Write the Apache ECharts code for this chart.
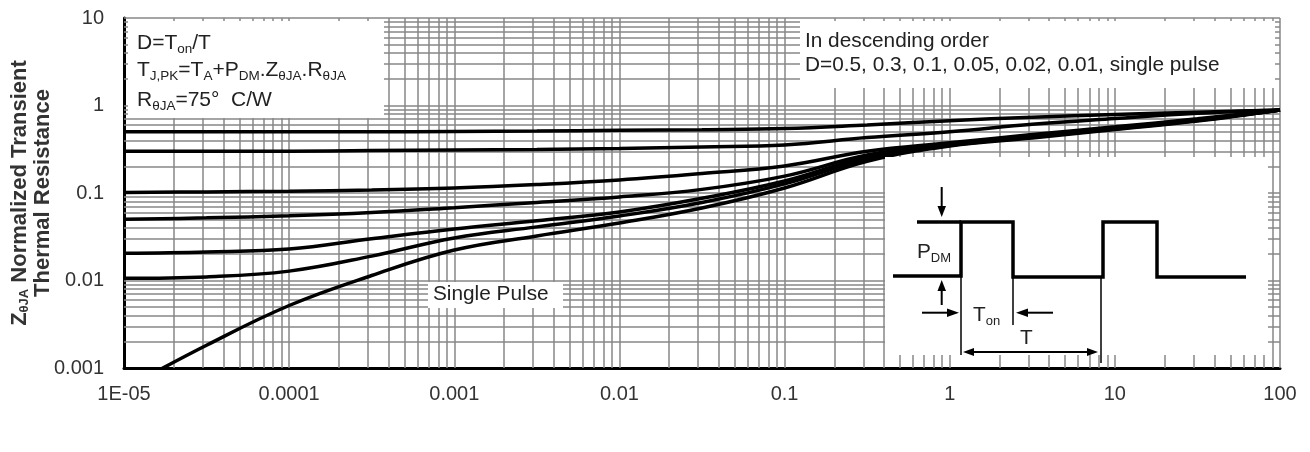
<!DOCTYPE html>
<html>
<head>
<meta charset="utf-8">
<script src="https://cdn.jsdelivr.net/npm/echarts@6/dist/echarts.min.js"></script>
<style>
html,body{margin:0;padding:0;background:#fff;}
#c{width:1310px;height:452px;}
</style>
</head>
<body>
<div id="c"></div>
<script>
// ---- data (half-decade sample points) ----
const times = [1e-5, 3.16e-5, 1e-4, 3.16e-4, 1e-3, 3.16e-3, 1e-2, 3.16e-2, 0.1, 0.316, 1, 3.16, 10, 31.6, 100];
const d50 = [0.50, 0.50, 0.50, 0.50, 0.505, 0.51, 0.52, 0.53, 0.545, 0.60, 0.67, 0.735, 0.79, 0.84, 0.89];
const d30 = [0.30, 0.30, 0.30, 0.305, 0.31, 0.315, 0.323, 0.336, 0.354, 0.43, 0.50, 0.61, 0.71, 0.815, 0.89];
const d10 = [0.101, 0.103, 0.105, 0.108, 0.114, 0.125, 0.141, 0.167, 0.204, 0.30, 0.375, 0.465, 0.57, 0.705, 0.89];
const d05 = [0.050, 0.052, 0.055, 0.060, 0.068, 0.078, 0.090, 0.110, 0.156, 0.272, 0.36, 0.45, 0.555, 0.69, 0.89];
const d02 = [0.0205, 0.0212, 0.0229, 0.0300, 0.0388, 0.0482, 0.0607, 0.087, 0.137, 0.257, 0.355, 0.44, 0.545, 0.68, 0.89];
const d01 = [0.0106, 0.011, 0.0128, 0.0190, 0.0306, 0.0410, 0.0546, 0.078, 0.127, 0.245, 0.35, 0.435, 0.54, 0.675, 0.89];
const single = [0.000575, 0.00182, 0.00518, 0.0114, 0.0223, 0.0323, 0.0454, 0.0674, 0.114, 0.23, 0.345, 0.425, 0.53, 0.665, 0.89];

const xTickLabels = {'-5':'1E-05','-4':'0.0001','-3':'0.001','-2':'0.01','-1':'0.1','0':'1','1':'10','2':'100'};
const yTickLabels = {'-3':'0.001','-2':'0.01','-1':'0.1','0':'1','1':'10'};

const FONT = "'Liberation Sans', Arial, sans-serif";

// gridlines (log decades with 2..9 minors)
const vLines = [];
for (let e = -5; e <= 1; e++) for (let k = 1; k <= 9; k++) { if (!(e === -5 && k === 1)) vLines.push({xAxis: k * Math.pow(10, e)}); }
vLines.push({xAxis: 100});
const hLines = [];
for (let e = -3; e <= 0; e++) for (let k = 1; k <= 9; k++) { if (!(e === -3 && k === 1)) hLines.push({yAxis: k * Math.pow(10, e)}); }
hLines.push({yAxis: 10});

function pairs(xs, ys) { return xs.map((x, i) => [x, ys[i]]); }
function curve(name, xs, ys) {
  return {
    name, type: 'line', data: pairs(xs, ys), showSymbol: false, smooth: 0.4, clip: true,
    lineStyle: {color: '#000', width: 3.5}, z: 5, silent: true, animation: false
  };
}

function txt(x, y, text, size, sub) {
  return {
    type: 'text', z: 110,
    style: {x, y, text, fill: '#222', fontSize: size, fontFamily: FONT, verticalAlign: 'middle', align: 'left',
      lineHeight: 26, rich: {s: {fontSize: sub || 13, fontFamily: FONT, fill: '#222', verticalAlign: 'bottom', lineHeight: 14}}}
  };
}
function line(points, w) {
  return {type: 'polyline', z: 105, shape: {points}, style: {stroke: '#000', lineWidth: w, fill: null}};
}
function tri(points) {
  return {type: 'polygon', z: 106, shape: {points}, style: {fill: '#000', stroke: null}};
}
function box(x, y, w, h) {
  return {type: 'rect', z: 100, shape: {x, y, width: w, height: h}, style: {fill: '#fff', stroke: null}};
}

const chart = echarts.init(document.getElementById('c'), null, {renderer: 'canvas'});
chart.setOption({
  animation: false,
  backgroundColor: '#fff',
  grid: {left: 124, right: 30, top: 18, bottom: 84, containLabel: false, outerBoundsMode: 'none'},
  xAxis: {
    type: 'log', logBase: 10, min: 1e-5, max: 100,
    axisLine: {show: true, onZero: false, lineStyle: {color: '#000', width: 3}},
    axisTick: {show: false}, splitLine: {show: false}, minorTick: {show: false},
    axisLabel: {fontSize: 20, fontFamily: FONT, color: '#333', margin: 16,
      formatter: v => xTickLabels[String(Math.round(Math.log10(v)))] || ''}
  },
  yAxis: {
    type: 'log', logBase: 10, min: 0.001, max: 10,
    axisLine: {show: true, onZero: false, lineStyle: {color: '#000', width: 3}},
    axisTick: {show: false}, splitLine: {show: false},
    axisLabel: {fontSize: 20, fontFamily: FONT, color: '#333', margin: 20,
      formatter: v => yTickLabels[String(Math.round(Math.log10(v)))] || ''},
    name: 'Z{s|θJA} Normalized Transient\nThermal Resistance',
    nameLocation: 'middle', nameGap: 70, nameRotate: 90, nameMoveOverlap: false,
    nameTextStyle: {fontSize: 22, fontWeight: 'bold', fontFamily: FONT, color: '#333', lineHeight: 23,
      rich: {s: {fontSize: 13, fontWeight: 'bold', fontFamily: FONT, color: '#333', verticalAlign: 'bottom', lineHeight: 14}}}
  },
  series: [
    {
      type: 'line', data: [], z: 1, silent: true,
      markLine: {
        silent: true, animation: false, precision: 10, symbol: ['none', 'none'], label: {show: false},
        emphasis: {disabled: true},
        lineStyle: {color: '#878787', width: 1.5, type: 'solid'},
        data: vLines.concat(hLines)
      }
    },
    curve('D=0.5', times, d50),
    curve('D=0.3', times, d30),
    curve('D=0.1', times, d10),
    curve('D=0.05', times, d05),
    curve('D=0.02', times, d02),
    curve('D=0.01', times, d01),
    curve('Single Pulse', times, single)
  ],
  graphic: {elements: [
    box(128, 21, 256, 97),
    box(800, 21, 475, 67),
    box(428, 282, 135, 26),
    box(885, 157, 383, 198),
    txt(137, 43, 'D=T{s|on}/T', 21, 13.5),
    txt(137, 70, 'T{s|J,PK}=T{s|A}+P{s|DM}.Z{s|θJA}.R{s|θJA}', 21, 13.5),
    txt(137, 100, 'R{s|θJA}=75°  C/W', 21, 13.5),
    txt(805, 41, 'In descending order', 20.8),
    txt(805, 65, 'D=0.5, 0.3, 0.1, 0.05, 0.02, 0.01, single pulse', 20.8),
    txt(433, 294, 'Single Pulse', 20.8),
    // pulse diagram
    line([[893,276],[961,276],[961,222],[1013,222],[1013,277],[1103,277],[1103,222],[1157,222],[1157,277],[1246,277]], 3.5),
    line([[917,222],[961,222]], 3.5),
    line([[961,276],[961,355]], 1.5),
    line([[1013,277],[1013,325]], 1.5),
    line([[1101,277],[1101,363]], 1.5),
    line([[941.7,187],[941.7,207]], 2),
    tri([[937.5,206],[946,206],[941.7,217]]),
    line([[941.7,305],[941.7,290]], 2),
    tri([[937.5,291],[946,291],[941.7,280]]),
    line([[922,312.7],[948,312.7]], 2),
    tri([[947,308.5],[947,317],[959,312.7]]),
    line([[1053,312.7],[1027,312.7]], 2),
    tri([[1028,308.5],[1028,317],[1016,312.7]]),
    line([[972,352],[1089,352]], 2),
    tri([[963,352],[974,348],[974,356]]),
    tri([[1098,352],[1087,348],[1087,356]]),
    txt(917, 252, 'P{s|DM}', 20.8, 13),
    txt(973, 315, 'T{s|on}', 20.8, 13),
    txt(1020, 338, 'T', 20.8)
  ]}
});
</script>
</body>
</html>
